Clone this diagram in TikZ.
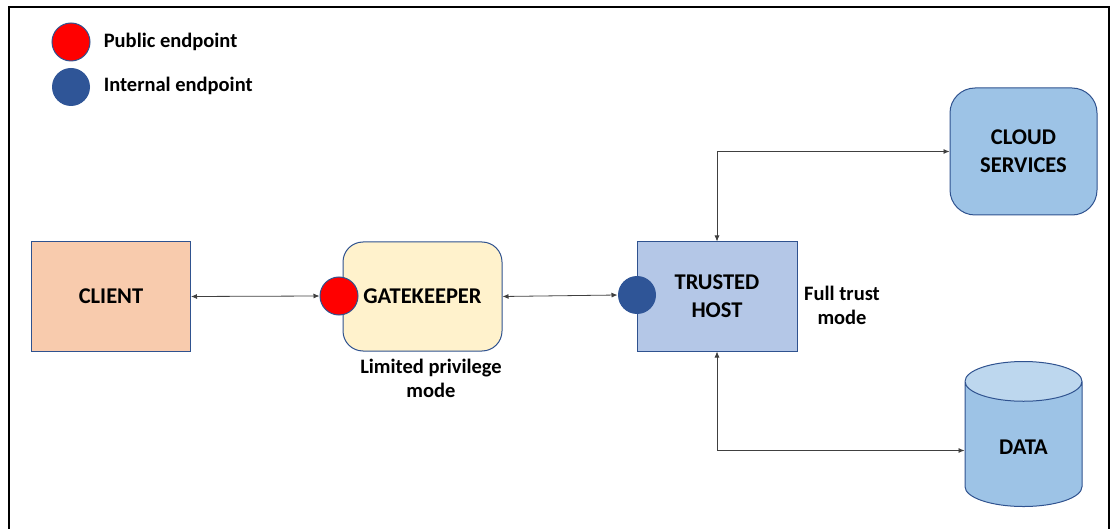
\documentclass[tikz,border=0pt]{standalone}
\usepackage{fontspec}
\setmainfont{Carlito}
\usetikzlibrary{arrows.meta,shapes.geometric}
\definecolor{edge}{HTML}{2F528F}
\definecolor{clientfill}{HTML}{F8CBAD}
\definecolor{gatefill}{HTML}{FFF2CC}
\definecolor{hostfill}{HTML}{B4C7E7}
\definecolor{cloudfill}{HTML}{9DC3E6}
\definecolor{datatop}{HTML}{BDD7EE}
\definecolor{intblue}{HTML}{2F5597}
\begin{document}
\begin{tikzpicture}[x=1pt,y=-1pt,line width=1pt,
  box/.style={draw=edge,minimum width=159pt,minimum height=109pt,align=center,
    font=\fontsize{22.5}{28}\selectfont\bfseries},
  endpt/.style={circle,minimum size=38pt,inner sep=0pt},
  lbl/.style={align=center,font=\fontsize{20.5}{24}\selectfont\bfseries},
  link/.style={draw=black!75,line width=.8pt,{Latex[length=6pt,width=5pt]}-{Latex[length=6pt,width=5pt]}}]
\useasboundingbox (0,0) rectangle (1113,529);
\draw[line width=2pt] (8.5,530)--(8.5,7.5)--(1109,7.5)--(1109,530);
% legend
\node[endpt,fill=red,draw=edge] (legpub) at (71,42) {};
\node[endpt,fill=intblue] (legint) at (71,87) {};
\node[lbl,anchor=west] (legpubtxt) at (100,42) {Public endpoint};
\node[lbl,anchor=west] (leginttxt) at (100,86) {Internal endpoint};
% boxes
\node[box,fill=clientfill] (client) at (111,296.5) {CLIENT};
\node[box,fill=gatefill,rounded corners=20pt] (gate) at (422.5,296.5) {GATEKEEPER};
\node[box,fill=hostfill,minimum width=160pt] (host) at (717,296.5) {TRUSTED\\HOST};
\node[box,fill=cloudfill,rounded corners=25pt,minimum width=147pt,minimum height=127pt] (cloud) at (1023.5,151.5) {CLOUD\\SERVICES};
\node[box,draw=edge,cylinder,shape border rotate=90,aspect=.72,cylinder uses custom fill,
  cylinder body fill=cloudfill,cylinder end fill=datatop,minimum width=117pt,minimum height=145pt] (data) at (1023.5,447.5) {DATA};
% endpoints
\node[endpt,fill=red,draw=edge] (pub) at (339,296) {};
\node[endpt,fill=intblue] (int) at (637,295) {};
\node[lbl] (gatemode) at (431,378) {Limited privilege\\mode};
\node[lbl] (hostmode) at (842,305) {Full trust\\mode};
% connectors
\draw[link] (client.east) -- (pub.west);
\draw[link] (gate.east) -- (int.west);
\draw[link] (host.north) |- (cloud.west);
\draw[link] (host.south) |- ([yshift=-3pt]data.west);
\end{tikzpicture}
\end{document}
